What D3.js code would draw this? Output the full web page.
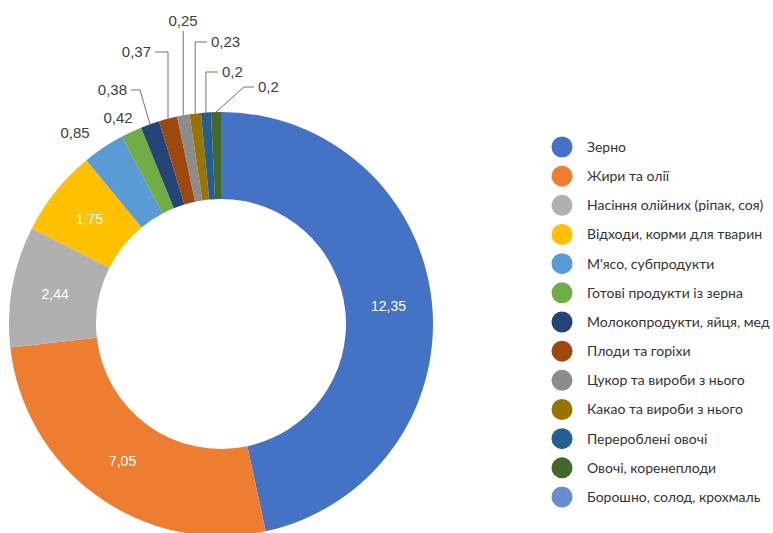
<!DOCTYPE html>
<html>
<head>
<meta charset="utf-8">
<script src="https://cdn.jsdelivr.net/npm/d3@7"></script>
<style>
  html, body { margin: 0; padding: 0; background: #fff; }
  svg { display: block; }
  .val { font-family: "Liberation Sans", Arial, sans-serif; }
  .legend text { font-family: Lato, "Open Sans", sans-serif; }
</style>
</head>
<body>
<svg id="chart" width="773" height="533"></svg>
<script>
// data
var categories = [
  'Зерно', 'Жири та олії', 'Насіння олійних (ріпак, соя)', 'Відходи, корми для тварин',
  'М\'ясо, субпродукти', 'Готові продукти із зерна', 'Молокопродукти, яйця, мед',
  'Плоди та горіхи', 'Цукор та вироби з нього', 'Какао та вироби з нього',
  'Перероблені овочі', 'Овочі, коренеплоди', 'Борошно, солод, крохмаль'
];
var values = [12.35, 7.05, 2.44, 1.75, 0.85, 0.42, 0.38, 0.37, 0.25, 0.23, 0.2, 0.2, 0];
var colors = ['#4472C4', '#ED7D31', '#B0B0B0', '#FFC000', '#5B9BD5', '#70AD47', '#264478',
  '#9E480E', '#8C8C8C', '#997300', '#255E91', '#43682B', '#698ED0'];

// layout for labels outside the ring (null = label inside the slice)
var outside = [null, null, null, null,
  {x: 75, y: 133, anchor: 'middle', line: false},
  {x: 118, y: 118, anchor: 'middle', line: false},
  {x: 127, y: 90, anchor: 'end', elbow: 140},
  {x: 151, y: 52, anchor: 'end'},
  {x: 183, y: 21, anchor: 'middle'},
  {x: 211, y: 42, anchor: 'start'},
  {x: 222, y: 72, anchor: 'start'},
  {x: 258, y: 87, anchor: 'start', elbow: 244},
  null];

var cx = 221, cy = 324, R = 212, r0 = 125;

var svg = d3.select('#chart');

var pie = d3.pie().sort(null).value(function(d) { return d; })
  .startAngle(0).endAngle(2 * Math.PI);
var arcs = pie(values);

var arc = d3.arc().innerRadius(r0).outerRadius(R);
var midArc = d3.arc().innerRadius((r0 + R) / 2).outerRadius((r0 + R) / 2);

var donut = svg.append('g').attr('transform', 'translate(' + cx + ',' + cy + ')');

donut.selectAll('path.slice')
  .data(arcs.filter(function(d) { return d.value > 0; }))
  .enter().append('path')
  .attr('class', 'slice')
  .attr('d', arc)
  .attr('fill', function(d) { return colors[d.index]; });

var fmt = function(v) { return String(v).replace('.', ','); };

// inside labels
donut.selectAll('text.in')
  .data(arcs.filter(function(d) { return d.value > 0 && !outside[d.index]; }))
  .enter().append('text')
  .attr('class', 'val in')
  .attr('transform', function(d) { return 'translate(' + midArc.centroid(d) + ')'; })
  .attr('text-anchor', 'middle')
  .attr('dy', '0.35em')
  .attr('fill', '#fff')
  .style('font-size', '14px')
  .text(function(d) { return fmt(d.value); });

// outside labels with leader lines
var lab = svg.append('g');
arcs.forEach(function(d) {
  var o = outside[d.index];
  if (!o || d.value <= 0) return;
  var a = (d.startAngle + d.endAngle) / 2;
  var ax = cx + R * Math.sin(a), ay = cy - R * Math.cos(a);
  if (o.line !== false) {
    var pts;
    if (o.anchor === 'middle') {
      pts = [[ax, ay], [ax, o.y + 10]];
    } else {
      var ex = o.anchor === 'end' ? o.x + 4 : o.x - 4;
      var bx = o.elbow != null ? o.elbow : ax;
      pts = [[ax, ay], [bx, o.y], [ex, o.y]];
    }
    lab.append('path')
      .attr('d', d3.line()(pts))
      .attr('fill', 'none')
      .attr('stroke', '#707070')
      .attr('stroke-width', 1);
  }
  lab.append('text')
    .attr('class', 'val')
    .attr('x', o.x).attr('y', o.y)
    .attr('dy', '0.35em')
    .attr('text-anchor', o.anchor)
    .attr('fill', '#404040')
    .style('font-size', '15px')
    .text(fmt(d.value));
});

// legend
var legend = svg.append('g').attr('class', 'legend');
var ly = d3.scalePoint().domain(d3.range(categories.length)).range([147, 497]);
var item = legend.selectAll('g')
  .data(categories)
  .enter().append('g')
  .attr('transform', function(d, i) { return 'translate(562,' + ly(i) + ')'; });
item.append('circle')
  .attr('r', 10.5)
  .attr('fill', function(d, i) { return colors[i]; });
item.append('text')
  .attr('x', 25)
  .attr('dy', '0.35em')
  .attr('fill', '#333')
  .style('font-size', '14px')
  .text(function(d) { return d; });
</script>
</body>
</html>
